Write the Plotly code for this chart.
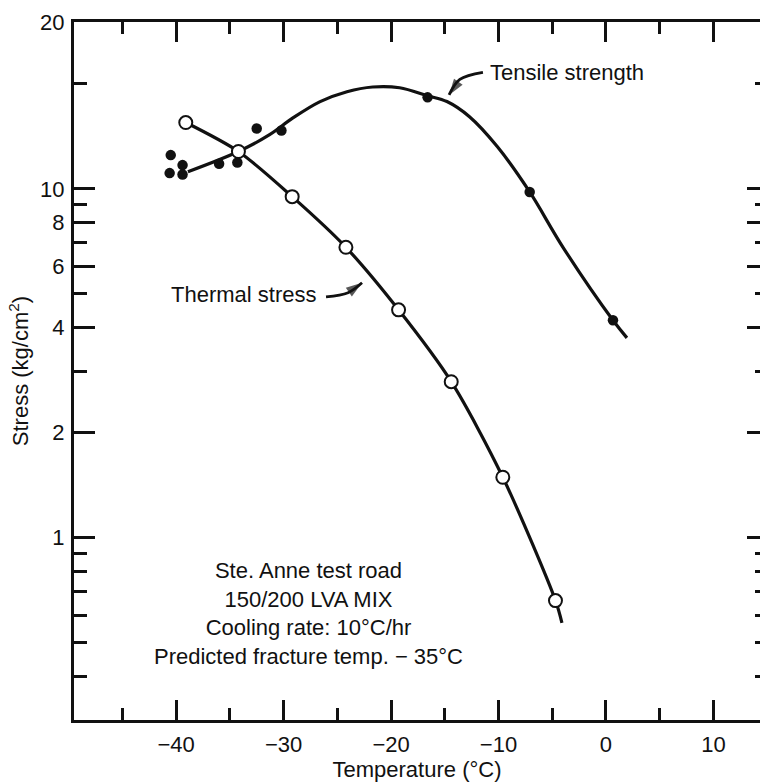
import numpy as np
import plotly.graph_objects as go

# ---- data ----
# Tensile strength: measured points (temperature °C, stress kg/cm2)
tensile_T = [-40.5, -40.6, -39.4, -39.4, -36.0, -34.3, -32.5, -30.2, -16.6, -7.1, 0.65]
tensile_S = [12.5, 11.1, 11.7, 11.0, 11.8, 11.9, 14.9, 14.7, 18.3, 9.8, 4.2]
# Tensile strength: fitted curve
tensile_curve_T = [-38.9, -34.2, -31.3, -29.1, -26.6, -24.1, -21.7, -19.2, -16.6,
                   -14.8, -12.7, -10.1, -7.1, -4.0, 0.65, 1.95]
tensile_curve_S = [11.2, 12.8, 14.3, 16.0, 17.8, 19.0, 19.6, 19.5, 18.5,
                   17.8, 16.1, 13.2, 9.8, 6.8, 4.2, 3.74]
# Thermal stress: computed points
thermal_T = [-39.1, -34.2, -29.2, -24.2, -19.3, -14.4, -9.6, -4.7]
thermal_S = [15.5, 12.8, 9.5, 6.8, 4.5, 2.8, 1.49, 0.66]
# Thermal stress curve extension past last point
thermal_end_T = [-4.1]
thermal_end_S = [0.57]

# Label leader arrows (tail -> bend -> head), in data units
tensile_arrow_T = [-11.45, -13.6, -14.6]
tensile_arrow_S = [21.6, 20.6, 18.6]
thermal_arrow_T = [-26.05, -24.0, -22.7]
thermal_arrow_S = [4.90, 5.04, 5.38]

# Axis ticks
x_major = [-40, -30, -20, -10, 0, 10]
x_major_text = ["\u221240", "\u221230", "\u221220", "\u221210", "0", "10"]
x_minor = [-45, -35, -25, -15, -5, 5]
y_major = [1, 2, 4, 6, 8, 10, 30]
y_major_text = ["1", "2", "4", "6", "8", "10", "20"]
y_minor = [0.4, 0.5, 0.6, 0.7, 0.8, 0.9, 3, 5, 7, 9, 20]

FONT = "Liberation Sans"
BLACK = "#111111"

fig = go.Figure()

fig.add_trace(go.Scatter(
    x=tensile_curve_T, y=tensile_curve_S, mode="lines",
    line=dict(color=BLACK, width=3.2, shape="spline", smoothing=1.0),
    hoverinfo="skip", showlegend=False))
fig.add_trace(go.Scatter(
    x=tensile_T, y=tensile_S, mode="markers", yaxis="y2",
    marker=dict(color=BLACK, size=10.5, line=dict(width=0)),
    name="Tensile strength", showlegend=False))

fig.add_trace(go.Scatter(
    x=thermal_T + thermal_end_T, y=thermal_S + thermal_end_S, mode="lines",
    line=dict(color=BLACK, width=3.2, shape="spline", smoothing=0.8),
    hoverinfo="skip", showlegend=False))
fig.add_trace(go.Scatter(
    x=thermal_T, y=thermal_S, mode="markers",
    marker=dict(color="white", size=13, line=dict(color=BLACK, width=2)),
    name="Thermal stress", showlegend=False))

# curved leader arrows
for ax_, ay_ in [(tensile_arrow_T, tensile_arrow_S), (thermal_arrow_T, thermal_arrow_S)]:
    fig.add_trace(go.Scatter(
        x=ax_, y=ay_, mode="lines+markers",
        line=dict(color=BLACK, width=2.8, shape="spline", smoothing=1.0),
        marker=dict(symbol="arrow", angleref="previous", color=BLACK,
                    size=[0, 0, 17], line=dict(width=0)),
        hoverinfo="skip", showlegend=False))

lo, hi = np.log10(0.3), np.log10(30.1)

fig.update_layout(
    width=760, height=784,
    margin=dict(l=74, r=0, t=22, b=64),
    paper_bgcolor="white", plot_bgcolor="white",
    font=dict(family=FONT, size=22, color=BLACK),
    showlegend=False,
    xaxis=dict(
        range=[-49.5, 14.33], showgrid=False, zeroline=False,
        showline=True, linewidth=3, linecolor=BLACK, mirror="ticks",
        ticks="inside", ticklen=20, tickwidth=2.5, tickcolor=BLACK,
        tickmode="array", tickvals=x_major, ticktext=x_major_text,
        ticklabelstandoff=3,
        minor=dict(tickmode="array", tickvals=x_minor, ticks="inside",
                   ticklen=12, tickwidth=2.5, tickcolor=BLACK, showgrid=False),
        title=dict(text="Temperature (°C)", standoff=2,
                   font=dict(family=FONT, size=22, color=BLACK)),
    ),
    yaxis=dict(
        type="log", range=[lo, hi], showgrid=False, zeroline=False,
        showline=True, linewidth=3, linecolor=BLACK, mirror=False,
        ticks="inside", ticklen=21, tickwidth=2.5, tickcolor=BLACK,
        tickmode="array", tickvals=y_major, ticktext=y_major_text,
        ticklabelstandoff=2,
        minor=dict(tickmode="array", tickvals=y_minor, ticks="inside",
                   ticklen=13, tickwidth=2.5, tickcolor=BLACK, showgrid=False),
        title=dict(text="Stress (kg/cm<sup>2</sup>)", standoff=6,
                   font=dict(family=FONT, size=22, color=BLACK)),
    ),
    yaxis2=dict(
        type="log", range=[lo, hi], overlaying="y", side="right", anchor="x",
        showgrid=False, zeroline=False, showline=False, showticklabels=False,
        ticks="inside", ticklen=13, tickwidth=2.5, tickcolor=BLACK,
        tickmode="array", tickvals=y_major[:-1],
        minor=dict(tickmode="array", tickvals=y_minor, ticks="inside",
                   ticklen=5, tickwidth=2.5, tickcolor=BLACK, showgrid=False),
    ),
)

# Text labels
fig.add_annotation(x=-10.98, y=np.log10(21.6), text="Tensile strength",
                   showarrow=False, xanchor="left", yanchor="middle",
                   font=dict(family=FONT, size=22, color=BLACK))
fig.add_annotation(x=-26.8, y=np.log10(4.97), text="Thermal stress",
                   showarrow=False, xanchor="right", yanchor="middle",
                   font=dict(family=FONT, size=22, color=BLACK))
fig.add_annotation(x=-27.7, y=np.log10(0.606),
                   text="Ste. Anne test road<br>150/200 LVA MIX<br>"
                        "Cooling rate: 10°C/hr<br>Predicted fracture temp. \u2212 35°C",
                   showarrow=False, xanchor="center", yanchor="middle", align="center",
                   font=dict(family=FONT, size=22, color=BLACK))

fig.write_html("out.html")
